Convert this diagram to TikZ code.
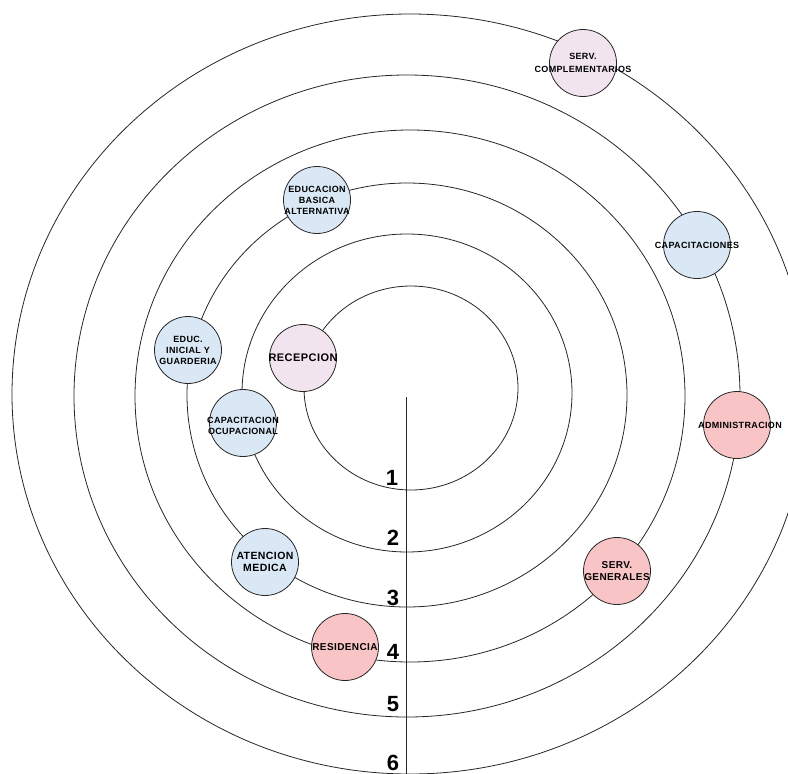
\documentclass[tikz,border=0pt]{standalone}
\usepackage{fontspec}
\setmainfont{Liberation Sans}
\newfontfamily\lblfont[LetterSpace=4]{Liberation Sans}
\definecolor{lpink}{HTML}{F2E4EE}
\definecolor{lblue}{HTML}{DAE8F5}
\definecolor{rpink}{HTML}{F8C4C6}
\definecolor{ringcol}{HTML}{262626}
\tikzset{
  ring/.style={draw=ringcol, line width=0.8pt},
  place/.style={circle, draw=ringcol, line width=0.8pt, minimum size=67pt, inner sep=0pt},
  lbl/.style={inner sep=0pt, align=center, font=\lblfont\bfseries\fontsize{9}{11}\selectfont},
  biglbl/.style={lbl, font=\lblfont\bfseries\fontsize{10}{11.7}\selectfont},
  num/.style={inner sep=0pt, font=\bfseries\fontsize{22}{22}\selectfont}
}
\begin{document}
\begin{tikzpicture}[x=1pt,y=-1pt]
\useasboundingbox (0,0) rectangle (788,774);
\clip (0,0) rectangle (788,774);
% rings
\draw[ring] (411,388) ellipse [x radius=107pt, y radius=102pt];
\draw[ring] (407,393) ellipse [x radius=165pt, y radius=159pt];
\draw[ring] (407,395) ellipse [x radius=220pt, y radius=212pt];
\draw[ring] (410,396) ellipse [x radius=275pt, y radius=266pt];
\draw[ring] (407,396) ellipse [x radius=333pt, y radius=321pt];
\draw[ring] (410,394) ellipse [x radius=398pt, y radius=380pt];
% axis
\coordinate (axtop) at (406,397);
\coordinate (axbot) at (406,780);
\draw[ring] (axtop) -- (axbot);
% numbers
\node[num] (n1) at (392,478) {1};
\node[num] (n2) at (393,538) {2};
\node[num] (n3) at (393,598) {3};
\node[num] (n4) at (393,652) {4};
\node[num] (n5) at (393,704) {5};
\node[num] (n6) at (393,763) {6};
% places (fixed-size circles)
\node[place, fill=lpink] (servcomp) at (583,63) {};
\node[place, fill=lblue] (capac) at (697,245) {};
\node[place, fill=rpink] (admin) at (737,425) {};
\node[place, fill=rpink] (servgen) at (617,571) {};
\node[place, fill=rpink] (resid) at (345,647) {};
\node[place, fill=lblue] (atenc) at (265,562) {};
\node[place, fill=lblue] (inicial) at (188,350) {};
\node[place, fill=lblue] (basica) at (317,200) {};
\node[place, fill=lblue] (ocup) at (243,423) {};
\node[place, fill=lpink] (recep) at (303,358) {};
% labels
\node[lbl, font=\lblfont\bfseries\fontsize{9}{13}\selectfont] (tservcomp) at (servcomp) {SERV.\\COMPLEMENTARIOS};
\node[lbl] (tcapac) at (capac) {CAPACITACIONES};
\node[lbl] (tadmin) at ([xshift=3pt]admin.center) {ADMINISTRACION};
\node[biglbl] (tservgen) at (servgen) {SERV.\\GENERALES};
\node[biglbl] (tresid) at (resid) {RESIDENCIA};
\node[lbl, font=\lblfont\bfseries\fontsize{10.5}{11.7}\selectfont] (tatenc) at (atenc) {ATENCION\\MEDICA};
\node[lbl] (tinicial) at (inicial) {EDUC.\\INICIAL Y\\GUARDERIA};
\node[lbl] (tbasica) at (basica) {EDUCACION\\BASICA\\ALTERNATIVA};
\node[lbl, font=\lblfont\bfseries\fontsize{9}{11.7}\selectfont] (tocup) at ([yshift=-3pt]ocup.center) {CAPACITACION\\OCUPACIONAL};
\node[lbl, font=\lblfont\bfseries\fontsize{11}{12}\selectfont] (trecep) at (recep) {RECEPCION};
\end{tikzpicture}
\end{document}
